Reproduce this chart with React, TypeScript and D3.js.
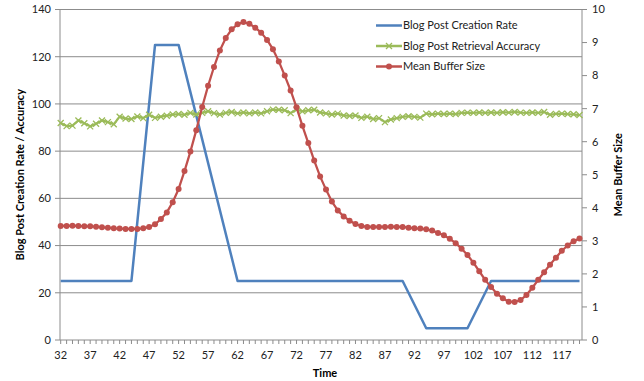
import React from 'react';
import * as d3 from 'd3';

// time steps on the category axis
const times = [
  32, 33, 34, 35, 36, 37, 38, 39, 40, 41, 42, 43, 44, 45, 46, 47, 48, 49, 50, 51,
  52, 53, 54, 55, 56, 57, 58, 59, 60, 61, 62, 63, 64, 65, 66, 67, 68, 69, 70, 71,
  72, 73, 74, 75, 76, 77, 78, 79, 80, 81, 82, 83, 84, 85, 86, 87, 88, 89, 90, 91,
  92, 93, 94, 95, 96, 97, 98, 99, 100, 101, 102, 103, 104, 105, 106, 107, 108, 109, 110, 111,
  112, 113, 114, 115, 116, 117, 118, 119, 120,
];
const timeLabels = [32, 37, 42, 47, 52, 57, 62, 67, 72, 77, 82, 87, 92, 97, 102, 107, 112, 117];

// blog post creation rate: straight segments between these corners
const creationTimes = [32, 44, 48, 52, 62, 90, 94, 101, 105, 120];
const creationRate = [25, 25, 125, 125, 25, 25, 5, 5, 25, 25];

const retrievalAccuracy = [
  91.9, 90.6, 90.8, 93.0, 91.8, 90.5, 91.6, 93.0, 92.3, 91.4,
  94.6, 93.8, 93.6, 94.7, 94.0, 95.4, 94.1, 94.6, 95.0, 95.5,
  95.7, 95.4, 96.2, 95.5, 96.2, 96.9, 96.1, 95.5, 96.2, 96.6,
  96.0, 96.4, 96.0, 96.4, 96.0, 96.9, 97.6, 97.5, 97.3, 96.1,
  97.6, 96.9, 97.3, 97.5, 96.4, 96.0, 95.5, 95.9, 95.1, 94.9,
  95.1, 94.1, 94.6, 93.6, 94.0, 92.3, 93.4, 94.0, 94.5, 94.8,
  94.5, 94.2, 95.9, 95.6, 95.9, 95.7, 95.9, 95.7, 96.2, 96.3,
  96.2, 96.4, 96.2, 96.4, 96.2, 96.5, 96.3, 96.6, 96.3, 96.2,
  96.4, 96.2, 96.6, 95.4, 95.8, 95.9, 95.7, 95.6, 95.3,
];

const meanBufferSize = [
  3.45, 3.45, 3.46, 3.45, 3.44, 3.44, 3.43, 3.41, 3.40, 3.38,
  3.37, 3.36, 3.36, 3.36, 3.38, 3.42, 3.50, 3.66, 3.86, 4.17,
  4.57, 5.11, 5.70, 6.35, 7.05, 7.69, 8.26, 8.76, 9.14, 9.40,
  9.55, 9.62, 9.57, 9.45, 9.30, 9.08, 8.80, 8.43, 8.00, 7.55,
  7.04, 6.48, 5.96, 5.43, 4.95, 4.55, 4.19, 3.92, 3.74, 3.61,
  3.51, 3.45, 3.42, 3.42, 3.42, 3.42, 3.43, 3.42, 3.42, 3.40,
  3.38, 3.37, 3.35, 3.31, 3.24, 3.17, 3.06, 2.93, 2.76, 2.57,
  2.34, 2.08, 1.82, 1.60, 1.40, 1.26, 1.16, 1.15, 1.21, 1.36,
  1.58, 1.82, 2.05, 2.28, 2.49, 2.70, 2.86, 2.99, 3.07,
];

const leftTicks = [0, 20, 40, 60, 80, 100, 120, 140];
const rightTicks = [0, 1, 2, 3, 4, 5, 6, 7, 8, 9, 10];

const legendItems = ['Blog Post Creation Rate', 'Blog Post Retrieval Accuracy', 'Mean Buffer Size'];

const BLUE = '#4F81BD';
const GREEN = '#9BBB59';
const RED = '#C0504D';
const GRID = '#8C8C8C';
const FONT = 'Lato, "Open Sans", sans-serif';

const width = 644;
const height = 381;
const plot = { left: 60, right: 582, top: 9.5, bottom: 340 };

const App: React.FC = () => {
  const x = d3.scalePoint<number>().domain(times).range([60.7, 579.5]);
  const yLeft = d3.scaleLinear().domain([0, 140]).range([plot.bottom, plot.top]);
  const yRight = d3.scaleLinear().domain([0, 10]).range([plot.bottom, plot.top]);

  const blueLine = d3.line<number>()
    .x((_, i) => x(creationTimes[i]) as number)
    .y(d => yLeft(d));
  const greenLine = d3.line<number>()
    .x((_, i) => x(times[i]) as number)
    .y(d => yLeft(d));
  const redLine = d3.line<number>()
    .x((_, i) => x(times[i]) as number)
    .y(d => yRight(d));

  const legendX = 376;
  const legendY = [25.5, 46, 66.5];

  return (
    <svg width={width} height={height} style={{ position: 'absolute', left: 0, top: 0, background: '#fff' }}
      fontFamily={FONT}>
      {/* gridlines */}
      {leftTicks.filter(t => t > 0).map(t => (
        <line key={'g' + t} x1={plot.left} x2={plot.right} y1={yLeft(t)} y2={yLeft(t)} stroke={GRID} strokeWidth={1} />
      ))}

      {/* axes */}
      <line x1={plot.left} x2={plot.left} y1={plot.top} y2={plot.bottom} stroke={GRID} />
      <line x1={plot.right} x2={plot.right} y1={plot.top} y2={plot.bottom} stroke={GRID} />
      <line x1={plot.left} x2={plot.right} y1={plot.bottom} y2={plot.bottom} stroke={GRID} />

      {leftTicks.map(t => (
        <g key={'l' + t}>
          <line x1={plot.left - 5} x2={plot.left} y1={yLeft(t)} y2={yLeft(t)} stroke={GRID} />
          <text x={plot.left - 9} y={yLeft(t)} dy="0.35em" textAnchor="end" fontSize={11} fill="#222">{t}</text>
        </g>
      ))}
      {rightTicks.map(t => (
        <g key={'r' + t}>
          <line x1={plot.right} x2={plot.right + 5} y1={yRight(t)} y2={yRight(t)} stroke={GRID} />
          <text x={plot.right + 10} y={yRight(t)} dy="0.35em" textAnchor="start" fontSize={11} fill="#222">{t}</text>
        </g>
      ))}
      {times.map(t => (
        <line key={'b' + t} x1={x(t)} x2={x(t)} y1={plot.bottom} y2={plot.bottom + 4} stroke={GRID} />
      ))}
      {timeLabels.map(t => (
        <text key={'bl' + t} x={x(t)} y={plot.bottom + 15} dy="0.35em" textAnchor="middle" fontSize={11} fill="#222">{t}</text>
      ))}

      {/* axis titles */}
      <text x={(plot.left + plot.right) / 2 + 4} y={373} dy="0.35em" textAnchor="middle" fontSize={11} fontWeight="bold">Time</text>
      <text transform={`translate(20,${(plot.top + plot.bottom) / 2}) rotate(-90)`} dy="0.35em" textAnchor="middle"
        fontSize={11} fontWeight="bold">Blog Post Creation Rate / Accuracy</text>
      <text transform={`translate(618,${(plot.top + plot.bottom) / 2}) rotate(-90)`} dy="0.35em" textAnchor="middle"
        fontSize={11} fontWeight="bold">Mean Buffer Size</text>

      {/* series */}
      <path d={blueLine(creationRate) ?? ''} fill="none" stroke={BLUE} strokeWidth={2.5} strokeLinejoin="round" />

      <path d={greenLine(retrievalAccuracy) ?? ''} fill="none" stroke={GREEN} strokeWidth={2.25} strokeLinejoin="round" />
      {retrievalAccuracy.map((v, i) => {
        const cx = x(times[i]) as number;
        const cy = yLeft(v);
        return (
          <path key={'gm' + i} d={`M${cx - 3},${cy - 3}L${cx + 3},${cy + 3}M${cx - 3},${cy + 3}L${cx + 3},${cy - 3}`}
            stroke={GREEN} strokeWidth={1.3} fill="none" />
        );
      })}

      <path d={redLine(meanBufferSize) ?? ''} fill="none" stroke={RED} strokeWidth={2.25} strokeLinejoin="round" />
      {meanBufferSize.map((v, i) => (
        <circle key={'rm' + i} cx={x(times[i]) as number} cy={yRight(v)} r={3} fill={RED} />
      ))}

      {/* legend */}
      {legendItems.map((name, i) => {
        const color = [BLUE, GREEN, RED][i];
        const ly = legendY[i];
        const mx = legendX + 13;
        return (
          <g key={name}>
            <line x1={legendX} x2={legendX + 26} y1={ly} y2={ly} stroke={color} strokeWidth={2.5} />
            {i === 1 && (
              <path d={`M${mx - 3},${ly - 3}L${mx + 3},${ly + 3}M${mx - 3},${ly + 3}L${mx + 3},${ly - 3}`}
                stroke={GREEN} strokeWidth={1.3} />
            )}
            {i === 2 && <circle cx={mx} cy={ly} r={3} fill={RED} />}
            <text x={legendX + 27} y={ly} dy="0.35em" fontSize={11} fill="#222">{name}</text>
          </g>
        );
      })}
    </svg>
  );
};

export default App;
